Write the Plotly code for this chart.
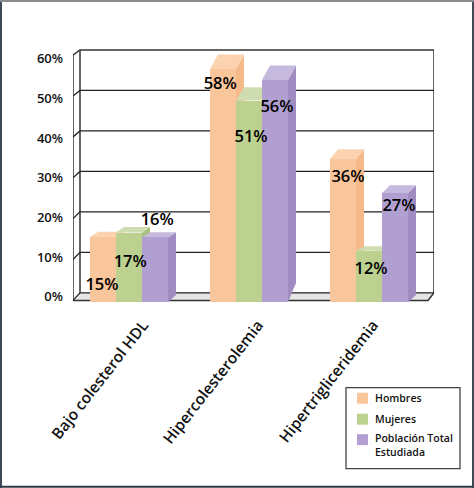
import plotly.graph_objects as go

categories = ["Bajo colesterol HDL", "Hipercolesterolemia", "Hipertrigliceridemia"]
series_names = ["Hombres", "Mujeres", "Población Total<br>Estudiada"]

# what is printed on the bars
hombres = [15, 58, 36]
mujeres = [17, 51, 12]
poblacion = [16, 56, 27]

# heights as drawn, they do not quite agree with the printed numbers
hombres_alto = [15.7, 57.3, 35.0]
mujeres_alto = [16.8, 49.5, 12.3]
poblacion_alto = [15.6, 54.6, 26.6]

y_ticks = [0, 10, 20, 30, 40, 50, 60]

colors = ["#f9c59a", "#bcd08f", "#b09fd0"]
colors_side = ["#f6b98a", "#a9c07f", "#a08cc0"]
colors_top = ["#fbd3b0", "#cfdcaf", "#c6b9de"]

W, H = 474, 488
PLOT_L, PLOT_R, PLOT_T = 73, 434, 48
ZERO_PX = 300.6  # pixel row of the front zero line
PX_X = 120.0  # px per category
PX_Y = 4.04  # px per percent
BAR_W = 26.0 / PX_X
X_MIN = (PLOT_L - 129) / PX_X
X_MAX = (PLOT_R - 129) / PX_X
Y_MIN = -0.4
Y_MAX = (ZERO_PX - PLOT_T) / PX_Y
PLOT_B = ZERO_PX - Y_MIN * PX_Y
LINE = "#333333"
TEXT = "#111111"
FONT = "Open Sans"


def back_y(v):
    # back wall is a bit higher and tighter than the front axis
    return (ZERO_PX - 293 + 4.05 * v) / PX_Y


def front_y(v):
    return v * 4.09 / PX_Y


def top_depth(v):
    # the chart has perspective, tall bars show more of their top
    return min(1.5 + 0.24 * v, 14.5) / PX_Y


def px_x(x):
    return (x - PLOT_L) / (PLOT_R - PLOT_L)


def px_y(y):
    return (PLOT_B - y) / (PLOT_B - PLOT_T)


DX = 8.0 / PX_X
fig = go.Figure()


def poly(xs, ys, color):
    fig.add_trace(go.Scatter(x=xs, y=ys, mode="lines", fill="toself", fillcolor=color,
                             line=dict(color=color, width=0),
                             hoverinfo="skip", showlegend=False))


def wall_line(xs, ys, color=LINE, width=1.5):
    fig.add_trace(go.Scatter(x=xs, y=ys, mode="lines", line=dict(color=color, width=width),
                             hoverinfo="skip", showlegend=False))


# walls and floor
x0, x1 = X_MIN, X_MAX - 6 / PX_X
bx0, bx1 = X_MIN + 7 / PX_X, X_MAX
poly([x0, x1, bx1, bx0, x0], [0, 0, back_y(0), back_y(0), 0], "#e6e6e6")
wall_line([x0, x0, bx0, bx1, bx1, x1, x0], [0, front_y(60), back_y(60), back_y(60), back_y(0), 0, 0])
wall_line([bx0, bx0], [back_y(0), back_y(60)])
for v in y_ticks[:-1]:
    wall_line([x0, bx0, bx1], [front_y(v), back_y(v), back_y(v)], color="#222222", width=1.3)

# sides and tops sit on the first axes, the front faces on the overlay so they cover them
alturas = [hombres_alto, mujeres_alto, poblacion_alto]
for s in range(3):
    offset = (s - 1) * BAR_W
    for c, v in enumerate(alturas[s]):
        left = c + offset - BAR_W / 2
        right = c + offset + BAR_W / 2
        d = top_depth(v)
        drop = 19 if v > 50 else 7
        poly([right, right + DX, right + DX, right], [Y_MIN, Y_MIN + drop / PX_Y, v + d, v], colors_side[s])
        poly([left, right, right + DX, left + DX], [v, v, v + d, v + d], colors_top[s])

for s in range(3):
    fig.add_trace(go.Bar(x=[c + (s - 1) * BAR_W for c in range(3)], y=[v - Y_MIN for v in alturas[s]],
                         base=Y_MIN, width=BAR_W, name=series_names[s], xaxis="x2", yaxis="y2",
                         marker=dict(color=colors[s], line=dict(width=0)), hoverinfo="skip",
                         showlegend=False))

# the printed percentages, each sits somewhere different on its bar
label_x = [-0.225, 0.01, 0.235, 0.76, 1.017, 1.233, 1.825, 2.017, 2.25]
label_y = [3.6, 9.3, 19.7, 53.5, 40.3, 47.8, 30.3, 7.6, 23.1]
label_text = ["%d%%" % v for group in zip(hombres, mujeres, poblacion) for v in group]
fig.add_trace(go.Scatter(x=label_x, y=label_y, text=label_text, mode="text", xaxis="x2", yaxis="y2",
                         textposition="middle center", showlegend=False, hoverinfo="skip",
                         textfont=dict(family=FONT, size=16.5, color="#000000", weight=600),
                         cliponaxis=False))

# legend by hand, the native one keeps too wide a gap between swatch and text
shapes = [
    dict(type="rect", xref="paper", yref="paper", x0=px_x(346), x1=px_x(460), y0=px_y(469), y1=px_y(388),
         line=dict(color="#444444", width=1.3), fillcolor="white"),
    # picture frame
    dict(type="rect", xref="paper", yref="paper", x0=px_x(0), x1=px_x(2), y0=px_y(H), y1=px_y(0),
         line=dict(width=0), fillcolor="#3d4a55"),
    dict(type="rect", xref="paper", yref="paper", x0=px_x(472), x1=px_x(W), y0=px_y(H), y1=px_y(0),
         line=dict(width=0), fillcolor="#3d4a55"),
    dict(type="rect", xref="paper", yref="paper", x0=px_x(0), x1=px_x(W), y0=px_y(H), y1=px_y(486),
         line=dict(width=0), fillcolor="#2f3a44"),
    dict(type="rect", xref="paper", yref="paper", x0=px_x(0), x1=px_x(W), y0=px_y(2), y1=px_y(0),
         line=dict(width=0), fillcolor="#8c8c8c"),
]
annotations = []
legend_rows = [398.5, 419.5, 445.5]
for s, name in enumerate(series_names):
    sw = legend_rows[s] if s < 2 else 440
    shapes.append(dict(type="rect", xref="paper", yref="paper", x0=px_x(357), x1=px_x(368),
                       y0=px_y(sw + 5.5), y1=px_y(sw - 5.5), line=dict(width=0), fillcolor=colors[s]))
    annotations.append(dict(xref="paper", yref="paper", x=px_x(372.5), y=px_y(legend_rows[s]),
                            text=name, showarrow=False, xanchor="left", yanchor="middle", align="left",
                            font=dict(family=FONT, size=10.5, color=TEXT, weight=600)))

axis_off = dict(showgrid=False, zeroline=False, showline=False, showticklabels=False, ticks="",
                fixedrange=True)
fig.update_layout(
    width=W, height=H, autosize=False,
    paper_bgcolor="white", plot_bgcolor="rgba(0,0,0,0)",
    margin=dict(l=PLOT_L, r=W - PLOT_R, t=PLOT_T, b=H - PLOT_B, pad=0),
    barmode="overlay", bargap=0, showlegend=False,
    font=dict(family=FONT, color=TEXT),
    shapes=shapes, annotations=annotations,
    # long labels end a bit closer together than the bar groups
    xaxis=dict(range=[X_MIN, X_MAX], showgrid=False, zeroline=False, showline=False,
               tickmode="array", tickvals=[(p - 129) / PX_X for p in (143, 258, 373)], ticktext=categories,
               tickangle=-52, ticks="", ticklabelstandoff=10,
               tickfont=dict(size=15.5, weight=600), fixedrange=True),
    yaxis=dict(range=[Y_MIN, Y_MAX], showgrid=False, zeroline=False, showline=False,
               tickmode="array", tickvals=[0.9 + 0.982 * v for v in y_ticks],
               ticktext=["%d%%" % v for v in y_ticks], ticks="", ticklabelstandoff=9,
               tickfont=dict(size=13, weight=600), fixedrange=True),
    xaxis2=dict(axis_off, range=[X_MIN, X_MAX], overlaying="x"),
    yaxis2=dict(axis_off, range=[Y_MIN, Y_MAX], overlaying="y"),
)

fig.write_html("out.html", config=dict(displayModeBar=False),
               post_script="document.body.style.margin='0';")
